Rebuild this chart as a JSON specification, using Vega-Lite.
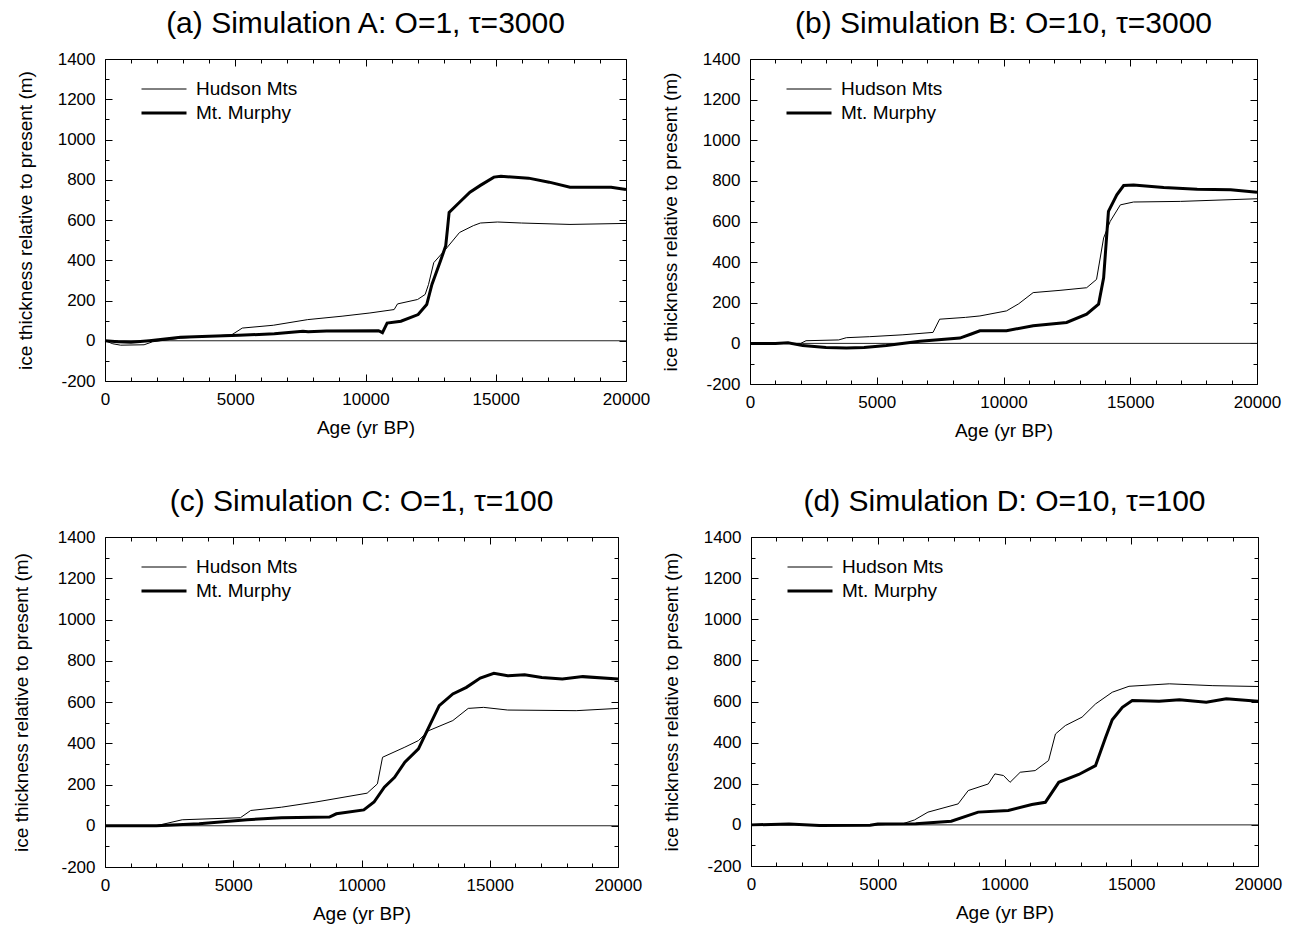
{
  "$schema": "https://vega.github.io/schema/vega-lite/v6.json",
  "padding": {"left": 11, "top": 8, "right": 5, "bottom": 5},
  "background": "white",
  "config": {
    "font": "Liberation Sans",
    "view": {"stroke": "black", "strokeWidth": 1},
    "axis": {"grid": false, "domain": false, "tickColor": "black", "tickWidth": 1, "labelColor": "black", "titleColor": "black", "labelFontSize": 17, "titleFontSize": 19, "titleFontWeight": "normal", "labelOverlap": false, "labelFlush": false},
    "title": {"fontSize": 30, "fontWeight": "normal", "color": "black", "anchor": "middle", "offset": 11},
    "legend": {"orient": "none", "legendX": 35, "legendY": 20, "title": null, "symbolType": "stroke", "symbolSize": 2025, "symbolStrokeColor": "black", "labelFontSize": 19, "labelColor": "black", "labelOffset": 8, "rowPadding": 4, "clipHeight": 20}
  },
  "datasets": {
    "curves": [
      {"p":"A","s":"Hudson Mts","age":0,"h":0},{"p":"A","s":"Hudson Mts","age":300,"h":-15},{"p":"A","s":"Hudson Mts","age":600,"h":-22},{"p":"A","s":"Hudson Mts","age":1500,"h":-20},{"p":"A","s":"Hudson Mts","age":1830,"h":-5},{"p":"A","s":"Hudson Mts","age":2900,"h":13},{"p":"A","s":"Hudson Mts","age":4000,"h":22},{"p":"A","s":"Hudson Mts","age":4870,"h":30},{"p":"A","s":"Hudson Mts","age":5270,"h":63},{"p":"A","s":"Hudson Mts","age":6460,"h":77},{"p":"A","s":"Hudson Mts","age":7780,"h":105},{"p":"A","s":"Hudson Mts","age":9100,"h":122},{"p":"A","s":"Hudson Mts","age":10170,"h":138},{"p":"A","s":"Hudson Mts","age":11100,"h":155},{"p":"A","s":"Hudson Mts","age":11230,"h":183},{"p":"A","s":"Hudson Mts","age":12000,"h":205},{"p":"A","s":"Hudson Mts","age":12290,"h":230},{"p":"A","s":"Hudson Mts","age":12420,"h":280},{"p":"A","s":"Hudson Mts","age":12620,"h":388},{"p":"A","s":"Hudson Mts","age":13080,"h":455},{"p":"A","s":"Hudson Mts","age":13610,"h":538},{"p":"A","s":"Hudson Mts","age":14140,"h":572},{"p":"A","s":"Hudson Mts","age":14410,"h":585},{"p":"A","s":"Hudson Mts","age":15070,"h":590},{"p":"A","s":"Hudson Mts","age":15990,"h":585},{"p":"A","s":"Hudson Mts","age":17850,"h":578},{"p":"A","s":"Hudson Mts","age":20000,"h":583},
      {"p":"A","s":"Mt. Murphy","age":0,"h":0},{"p":"A","s":"Mt. Murphy","age":500,"h":-5},{"p":"A","s":"Mt. Murphy","age":1000,"h":-8},{"p":"A","s":"Mt. Murphy","age":1700,"h":0},{"p":"A","s":"Mt. Murphy","age":2900,"h":17},{"p":"A","s":"Mt. Murphy","age":4000,"h":22},{"p":"A","s":"Mt. Murphy","age":5140,"h":27},{"p":"A","s":"Mt. Murphy","age":6500,"h":35},{"p":"A","s":"Mt. Murphy","age":7600,"h":47},{"p":"A","s":"Mt. Murphy","age":7800,"h":45},{"p":"A","s":"Mt. Murphy","age":8500,"h":48},{"p":"A","s":"Mt. Murphy","age":10500,"h":50},{"p":"A","s":"Mt. Murphy","age":10650,"h":40},{"p":"A","s":"Mt. Murphy","age":10830,"h":88},{"p":"A","s":"Mt. Murphy","age":11360,"h":97},{"p":"A","s":"Mt. Murphy","age":12020,"h":130},{"p":"A","s":"Mt. Murphy","age":12350,"h":180},{"p":"A","s":"Mt. Murphy","age":12550,"h":280},{"p":"A","s":"Mt. Murphy","age":12880,"h":397},{"p":"A","s":"Mt. Murphy","age":13080,"h":472},{"p":"A","s":"Mt. Murphy","age":13150,"h":560},{"p":"A","s":"Mt. Murphy","age":13210,"h":638},{"p":"A","s":"Mt. Murphy","age":13610,"h":688},{"p":"A","s":"Mt. Murphy","age":14010,"h":738},{"p":"A","s":"Mt. Murphy","age":14410,"h":772},{"p":"A","s":"Mt. Murphy","age":14930,"h":813},{"p":"A","s":"Mt. Murphy","age":15200,"h":817},{"p":"A","s":"Mt. Murphy","age":16260,"h":808},{"p":"A","s":"Mt. Murphy","age":17050,"h":788},{"p":"A","s":"Mt. Murphy","age":17850,"h":763},{"p":"A","s":"Mt. Murphy","age":19430,"h":763},{"p":"A","s":"Mt. Murphy","age":20000,"h":752},
      {"p":"B","s":"Hudson Mts","age":0,"h":0},{"p":"B","s":"Hudson Mts","age":2000,"h":0},{"p":"B","s":"Hudson Mts","age":2210,"h":13},{"p":"B","s":"Hudson Mts","age":3500,"h":17},{"p":"B","s":"Hudson Mts","age":3800,"h":28},{"p":"B","s":"Hudson Mts","age":4720,"h":33},{"p":"B","s":"Hudson Mts","age":6000,"h":42},{"p":"B","s":"Hudson Mts","age":7220,"h":54},{"p":"B","s":"Hudson Mts","age":7480,"h":119},{"p":"B","s":"Hudson Mts","age":8500,"h":128},{"p":"B","s":"Hudson Mts","age":9070,"h":135},{"p":"B","s":"Hudson Mts","age":10120,"h":160},{"p":"B","s":"Hudson Mts","age":10600,"h":195},{"p":"B","s":"Hudson Mts","age":11170,"h":250},{"p":"B","s":"Hudson Mts","age":12230,"h":261},{"p":"B","s":"Hudson Mts","age":13280,"h":274},{"p":"B","s":"Hudson Mts","age":13670,"h":315},{"p":"B","s":"Hudson Mts","age":13950,"h":519},{"p":"B","s":"Hudson Mts","age":14210,"h":601},{"p":"B","s":"Hudson Mts","age":14610,"h":682},{"p":"B","s":"Hudson Mts","age":15130,"h":696},{"p":"B","s":"Hudson Mts","age":16980,"h":699},{"p":"B","s":"Hudson Mts","age":20000,"h":712},
      {"p":"B","s":"Mt. Murphy","age":0,"h":0},{"p":"B","s":"Mt. Murphy","age":1000,"h":0},{"p":"B","s":"Mt. Murphy","age":1500,"h":3},{"p":"B","s":"Mt. Murphy","age":2080,"h":-11},{"p":"B","s":"Mt. Murphy","age":3000,"h":-20},{"p":"B","s":"Mt. Murphy","age":3800,"h":-23},{"p":"B","s":"Mt. Murphy","age":4500,"h":-20},{"p":"B","s":"Mt. Murphy","age":5380,"h":-11},{"p":"B","s":"Mt. Murphy","age":6700,"h":10},{"p":"B","s":"Mt. Murphy","age":8280,"h":26},{"p":"B","s":"Mt. Murphy","age":8700,"h":45},{"p":"B","s":"Mt. Murphy","age":9070,"h":62},{"p":"B","s":"Mt. Murphy","age":10120,"h":62},{"p":"B","s":"Mt. Murphy","age":11170,"h":87},{"p":"B","s":"Mt. Murphy","age":12490,"h":103},{"p":"B","s":"Mt. Murphy","age":13280,"h":144},{"p":"B","s":"Mt. Murphy","age":13750,"h":193},{"p":"B","s":"Mt. Murphy","age":13950,"h":323},{"p":"B","s":"Mt. Murphy","age":14140,"h":650},{"p":"B","s":"Mt. Murphy","age":14470,"h":731},{"p":"B","s":"Mt. Murphy","age":14740,"h":777},{"p":"B","s":"Mt. Murphy","age":15130,"h":780},{"p":"B","s":"Mt. Murphy","age":16320,"h":767},{"p":"B","s":"Mt. Murphy","age":17640,"h":759},{"p":"B","s":"Mt. Murphy","age":18960,"h":756},{"p":"B","s":"Mt. Murphy","age":20000,"h":744},
      {"p":"C","s":"Hudson Mts","age":0,"h":0},{"p":"C","s":"Hudson Mts","age":2000,"h":0},{"p":"C","s":"Hudson Mts","age":3010,"h":29},{"p":"C","s":"Hudson Mts","age":5280,"h":39},{"p":"C","s":"Hudson Mts","age":5680,"h":74},{"p":"C","s":"Hudson Mts","age":6880,"h":90},{"p":"C","s":"Hudson Mts","age":8220,"h":115},{"p":"C","s":"Hudson Mts","age":10220,"h":158},{"p":"C","s":"Hudson Mts","age":10620,"h":203},{"p":"C","s":"Hudson Mts","age":10820,"h":332},{"p":"C","s":"Hudson Mts","age":11690,"h":381},{"p":"C","s":"Hudson Mts","age":12220,"h":413},{"p":"C","s":"Hudson Mts","age":12620,"h":461},{"p":"C","s":"Hudson Mts","age":13560,"h":510},{"p":"C","s":"Hudson Mts","age":14160,"h":569},{"p":"C","s":"Hudson Mts","age":14760,"h":574},{"p":"C","s":"Hudson Mts","age":15700,"h":561},{"p":"C","s":"Hudson Mts","age":18370,"h":558},{"p":"C","s":"Hudson Mts","age":20000,"h":569},
      {"p":"C","s":"Mt. Murphy","age":0,"h":0},{"p":"C","s":"Mt. Murphy","age":2000,"h":0},{"p":"C","s":"Mt. Murphy","age":3670,"h":10},{"p":"C","s":"Mt. Murphy","age":5540,"h":29},{"p":"C","s":"Mt. Murphy","age":6880,"h":39},{"p":"C","s":"Mt. Murphy","age":8750,"h":42},{"p":"C","s":"Mt. Murphy","age":9020,"h":58},{"p":"C","s":"Mt. Murphy","age":10090,"h":77},{"p":"C","s":"Mt. Murphy","age":10490,"h":115},{"p":"C","s":"Mt. Murphy","age":10890,"h":187},{"p":"C","s":"Mt. Murphy","age":11290,"h":235},{"p":"C","s":"Mt. Murphy","age":11690,"h":308},{"p":"C","s":"Mt. Murphy","age":12220,"h":373},{"p":"C","s":"Mt. Murphy","age":12620,"h":477},{"p":"C","s":"Mt. Murphy","age":13030,"h":582},{"p":"C","s":"Mt. Murphy","age":13560,"h":639},{"p":"C","s":"Mt. Murphy","age":14090,"h":671},{"p":"C","s":"Mt. Murphy","age":14630,"h":716},{"p":"C","s":"Mt. Murphy","age":15160,"h":739},{"p":"C","s":"Mt. Murphy","age":15700,"h":727},{"p":"C","s":"Mt. Murphy","age":16360,"h":732},{"p":"C","s":"Mt. Murphy","age":17030,"h":719},{"p":"C","s":"Mt. Murphy","age":17830,"h":711},{"p":"C","s":"Mt. Murphy","age":18630,"h":723},{"p":"C","s":"Mt. Murphy","age":20000,"h":711},
      {"p":"D","s":"Hudson Mts","age":0,"h":0},{"p":"D","s":"Hudson Mts","age":1500,"h":4},{"p":"D","s":"Hudson Mts","age":2700,"h":-3},{"p":"D","s":"Hudson Mts","age":4700,"h":-2},{"p":"D","s":"Hudson Mts","age":5500,"h":3},{"p":"D","s":"Hudson Mts","age":6000,"h":6},{"p":"D","s":"Hudson Mts","age":6450,"h":24},{"p":"D","s":"Hudson Mts","age":6980,"h":62},{"p":"D","s":"Hudson Mts","age":8170,"h":102},{"p":"D","s":"Hudson Mts","age":8570,"h":167},{"p":"D","s":"Hudson Mts","age":9360,"h":199},{"p":"D","s":"Hudson Mts","age":9620,"h":248},{"p":"D","s":"Hudson Mts","age":9960,"h":240},{"p":"D","s":"Hudson Mts","age":10220,"h":207},{"p":"D","s":"Hudson Mts","age":10620,"h":256},{"p":"D","s":"Hudson Mts","age":11210,"h":264},{"p":"D","s":"Hudson Mts","age":11740,"h":313},{"p":"D","s":"Hudson Mts","age":12010,"h":442},{"p":"D","s":"Hudson Mts","age":12400,"h":483},{"p":"D","s":"Hudson Mts","age":13060,"h":524},{"p":"D","s":"Hudson Mts","age":13590,"h":588},{"p":"D","s":"Hudson Mts","age":14250,"h":645},{"p":"D","s":"Hudson Mts","age":14910,"h":674},{"p":"D","s":"Hudson Mts","age":16500,"h":686},{"p":"D","s":"Hudson Mts","age":18220,"h":677},{"p":"D","s":"Hudson Mts","age":20000,"h":673},
      {"p":"D","s":"Mt. Murphy","age":0,"h":0},{"p":"D","s":"Mt. Murphy","age":1500,"h":4},{"p":"D","s":"Mt. Murphy","age":2700,"h":-3},{"p":"D","s":"Mt. Murphy","age":4700,"h":-2},{"p":"D","s":"Mt. Murphy","age":5000,"h":4},{"p":"D","s":"Mt. Murphy","age":6500,"h":5},{"p":"D","s":"Mt. Murphy","age":7900,"h":18},{"p":"D","s":"Mt. Murphy","age":8960,"h":62},{"p":"D","s":"Mt. Murphy","age":10150,"h":70},{"p":"D","s":"Mt. Murphy","age":11080,"h":99},{"p":"D","s":"Mt. Murphy","age":11610,"h":110},{"p":"D","s":"Mt. Murphy","age":12140,"h":207},{"p":"D","s":"Mt. Murphy","age":12930,"h":245},{"p":"D","s":"Mt. Murphy","age":13590,"h":288},{"p":"D","s":"Mt. Murphy","age":13990,"h":426},{"p":"D","s":"Mt. Murphy","age":14250,"h":511},{"p":"D","s":"Mt. Murphy","age":14650,"h":572},{"p":"D","s":"Mt. Murphy","age":15040,"h":605},{"p":"D","s":"Mt. Murphy","age":16100,"h":601},{"p":"D","s":"Mt. Murphy","age":16900,"h":608},{"p":"D","s":"Mt. Murphy","age":17960,"h":596},{"p":"D","s":"Mt. Murphy","age":18750,"h":613},{"p":"D","s":"Mt. Murphy","age":20000,"h":601}
    ]
  },
  "resolve": {"scale": {"strokeWidth": "independent"}, "legend": {"strokeWidth": "independent"}},
  "spacing": 45,
  "vconcat": [
    {
      "spacing": 9,
      "resolve": {"scale": {"strokeWidth": "independent"}, "legend": {"strokeWidth": "independent"}},
      "hconcat": [
        {
          "width": 521, "height": 322,
          "title": "(a) Simulation A: O=1, τ=3000",
          "resolve": {"axis": {"x": "independent", "y": "independent"}},
          "layer": [
            {"data": {"values": [{"z": 0}]}, "mark": {"type": "rule", "color": "#222", "strokeWidth": 1}, "encoding": {"y": {"field": "z", "type": "quantitative", "axis": null, "scale": {"domain": [-200, 1400], "nice": false}}}},
            {"data": {"name": "curves"}, "transform": [{"filter": "datum.p == 'A'"}],
             "mark": {"type": "line", "color": "black", "interpolate": "linear"},
             "encoding": {
               "x": {"field": "age", "type": "quantitative", "scale": {"domain": [0, 20000], "nice": false}, "axis": {"orient": "bottom", "values": [0,1000,2000,3000,4000,5000,6000,7000,8000,9000,10000,11000,12000,13000,14000,15000,16000,17000,18000,19000,20000], "tickSize": {"condition": {"test": "datum.value % 5000 === 0", "value": -7}, "value": -4}, "labelExpr": "datum.value % 5000 === 0 ? '' + datum.value : ''", "title": "Age (yr BP)", "labelPadding": 17, "titlePadding": 8}},
               "y": {"field": "h", "type": "quantitative", "scale": {"domain": [-200, 1400], "nice": false}, "axis": {"orient": "left", "values": [-200,-100,0,100,200,300,400,500,600,700,800,900,1000,1100,1200,1300,1400], "tickSize": {"condition": {"test": "datum.value % 200 === 0", "value": -7}, "value": -4}, "labelExpr": "datum.value % 200 === 0 ? '' + datum.value : ''", "title": "ice thickness relative to present (m)", "labelPadding": 17, "titlePadding": 22}},
               "strokeWidth": {"field": "s", "type": "ordinal", "scale": {"domain": ["Hudson Mts", "Mt. Murphy"], "range": [1, 3]}},
               "detail": {"field": "s"}
             }},
            {"data": {"name": "curves"}, "transform": [{"filter": "datum.p == 'A'"}],
             "mark": {"type": "line", "opacity": 0},
             "encoding": {
               "x": {"field": "age", "type": "quantitative", "axis": {"orient": "top", "values": [0,1000,2000,3000,4000,5000,6000,7000,8000,9000,10000,11000,12000,13000,14000,15000,16000,17000,18000,19000,20000], "tickSize": {"condition": {"test": "datum.value % 5000 === 0", "value": -7}, "value": -4}, "labels": false, "title": null}},
               "y": {"field": "h", "type": "quantitative", "axis": {"orient": "right", "values": [-200,-100,0,100,200,300,400,500,600,700,800,900,1000,1100,1200,1300,1400], "tickSize": {"condition": {"test": "datum.value % 200 === 0", "value": -7}, "value": -4}, "labels": false, "title": null}},
               "detail": {"field": "s"}
             }}
          ]
        },
        {
          "width": 507, "height": 325,
          "title": "(b) Simulation B: O=10, τ=3000",
          "resolve": {"axis": {"x": "independent", "y": "independent"}},
          "layer": [
            {"data": {"values": [{"z": 0}]}, "mark": {"type": "rule", "color": "#222", "strokeWidth": 1}, "encoding": {"y": {"field": "z", "type": "quantitative", "axis": null, "scale": {"domain": [-200, 1400], "nice": false}}}},
            {"data": {"name": "curves"}, "transform": [{"filter": "datum.p == 'B'"}],
             "mark": {"type": "line", "color": "black", "interpolate": "linear"},
             "encoding": {
               "x": {"field": "age", "type": "quantitative", "scale": {"domain": [0, 20000], "nice": false}, "axis": {"orient": "bottom", "values": [0,1000,2000,3000,4000,5000,6000,7000,8000,9000,10000,11000,12000,13000,14000,15000,16000,17000,18000,19000,20000], "tickSize": {"condition": {"test": "datum.value % 5000 === 0", "value": -7}, "value": -4}, "labelExpr": "datum.value % 5000 === 0 ? '' + datum.value : ''", "title": "Age (yr BP)", "labelPadding": 17, "titlePadding": 8}},
               "y": {"field": "h", "type": "quantitative", "scale": {"domain": [-200, 1400], "nice": false}, "axis": {"orient": "left", "values": [-200,-100,0,100,200,300,400,500,600,700,800,900,1000,1100,1200,1300,1400], "tickSize": {"condition": {"test": "datum.value % 200 === 0", "value": -7}, "value": -4}, "labelExpr": "datum.value % 200 === 0 ? '' + datum.value : ''", "title": "ice thickness relative to present (m)", "labelPadding": 17, "titlePadding": 22}},
               "strokeWidth": {"field": "s", "type": "ordinal", "scale": {"domain": ["Hudson Mts", "Mt. Murphy"], "range": [1, 3]}},
               "detail": {"field": "s"}
             }},
            {"data": {"name": "curves"}, "transform": [{"filter": "datum.p == 'B'"}],
             "mark": {"type": "line", "opacity": 0},
             "encoding": {
               "x": {"field": "age", "type": "quantitative", "axis": {"orient": "top", "values": [0,1000,2000,3000,4000,5000,6000,7000,8000,9000,10000,11000,12000,13000,14000,15000,16000,17000,18000,19000,20000], "tickSize": {"condition": {"test": "datum.value % 5000 === 0", "value": -7}, "value": -4}, "labels": false, "title": null}},
               "y": {"field": "h", "type": "quantitative", "axis": {"orient": "right", "values": [-200,-100,0,100,200,300,400,500,600,700,800,900,1000,1100,1200,1300,1400], "tickSize": {"condition": {"test": "datum.value % 200 === 0", "value": -7}, "value": -4}, "labels": false, "title": null}},
               "detail": {"field": "s"}
             }}
          ]
        }
      ]
    },
    {
      "spacing": 18,
      "resolve": {"scale": {"strokeWidth": "independent"}, "legend": {"strokeWidth": "independent"}},
      "hconcat": [
        {
          "width": 513, "height": 330,
          "title": "(c) Simulation C: O=1, τ=100",
          "resolve": {"axis": {"x": "independent", "y": "independent"}},
          "layer": [
            {"data": {"values": [{"z": 0}]}, "mark": {"type": "rule", "color": "#222", "strokeWidth": 1}, "encoding": {"y": {"field": "z", "type": "quantitative", "axis": null, "scale": {"domain": [-200, 1400], "nice": false}}}},
            {"data": {"name": "curves"}, "transform": [{"filter": "datum.p == 'C'"}],
             "mark": {"type": "line", "color": "black", "interpolate": "linear"},
             "encoding": {
               "x": {"field": "age", "type": "quantitative", "scale": {"domain": [0, 20000], "nice": false}, "axis": {"orient": "bottom", "values": [0,1000,2000,3000,4000,5000,6000,7000,8000,9000,10000,11000,12000,13000,14000,15000,16000,17000,18000,19000,20000], "tickSize": {"condition": {"test": "datum.value % 5000 === 0", "value": -7}, "value": -4}, "labelExpr": "datum.value % 5000 === 0 ? '' + datum.value : ''", "title": "Age (yr BP)", "labelPadding": 17, "titlePadding": 8}},
               "y": {"field": "h", "type": "quantitative", "scale": {"domain": [-200, 1400], "nice": false}, "axis": {"orient": "left", "values": [-200,-100,0,100,200,300,400,500,600,700,800,900,1000,1100,1200,1300,1400], "tickSize": {"condition": {"test": "datum.value % 200 === 0", "value": -7}, "value": -4}, "labelExpr": "datum.value % 200 === 0 ? '' + datum.value : ''", "title": "ice thickness relative to present (m)", "labelPadding": 17, "titlePadding": 26}},
               "strokeWidth": {"field": "s", "type": "ordinal", "scale": {"domain": ["Hudson Mts", "Mt. Murphy"], "range": [1, 3]}},
               "detail": {"field": "s"}
             }},
            {"data": {"name": "curves"}, "transform": [{"filter": "datum.p == 'C'"}],
             "mark": {"type": "line", "opacity": 0},
             "encoding": {
               "x": {"field": "age", "type": "quantitative", "axis": {"orient": "top", "values": [0,1000,2000,3000,4000,5000,6000,7000,8000,9000,10000,11000,12000,13000,14000,15000,16000,17000,18000,19000,20000], "tickSize": {"condition": {"test": "datum.value % 5000 === 0", "value": -7}, "value": -4}, "labels": false, "title": null}},
               "y": {"field": "h", "type": "quantitative", "axis": {"orient": "right", "values": [-200,-100,0,100,200,300,400,500,600,700,800,900,1000,1100,1200,1300,1400], "tickSize": {"condition": {"test": "datum.value % 200 === 0", "value": -7}, "value": -4}, "labels": false, "title": null}},
               "detail": {"field": "s"}
             }}
          ]
        },
        {
          "width": 507, "height": 329,
          "title": "(d) Simulation D: O=10, τ=100",
          "resolve": {"axis": {"x": "independent", "y": "independent"}},
          "layer": [
            {"data": {"values": [{"z": 0}]}, "mark": {"type": "rule", "color": "#222", "strokeWidth": 1}, "encoding": {"y": {"field": "z", "type": "quantitative", "axis": null, "scale": {"domain": [-200, 1400], "nice": false}}}},
            {"data": {"name": "curves"}, "transform": [{"filter": "datum.p == 'D'"}],
             "mark": {"type": "line", "color": "black", "interpolate": "linear"},
             "encoding": {
               "x": {"field": "age", "type": "quantitative", "scale": {"domain": [0, 20000], "nice": false}, "axis": {"orient": "bottom", "values": [0,1000,2000,3000,4000,5000,6000,7000,8000,9000,10000,11000,12000,13000,14000,15000,16000,17000,18000,19000,20000], "tickSize": {"condition": {"test": "datum.value % 5000 === 0", "value": -7}, "value": -4}, "labelExpr": "datum.value % 5000 === 0 ? '' + datum.value : ''", "title": "Age (yr BP)", "labelPadding": 17, "titlePadding": 8}},
               "y": {"field": "h", "type": "quantitative", "scale": {"domain": [-200, 1400], "nice": false}, "axis": {"orient": "left", "values": [-200,-100,0,100,200,300,400,500,600,700,800,900,1000,1100,1200,1300,1400], "tickSize": {"condition": {"test": "datum.value % 200 === 0", "value": -7}, "value": -4}, "labelExpr": "datum.value % 200 === 0 ? '' + datum.value : ''", "title": "ice thickness relative to present (m)", "labelPadding": 17, "titlePadding": 22}},
               "strokeWidth": {"field": "s", "type": "ordinal", "scale": {"domain": ["Hudson Mts", "Mt. Murphy"], "range": [1, 3]}},
               "detail": {"field": "s"}
             }},
            {"data": {"name": "curves"}, "transform": [{"filter": "datum.p == 'D'"}],
             "mark": {"type": "line", "opacity": 0},
             "encoding": {
               "x": {"field": "age", "type": "quantitative", "axis": {"orient": "top", "values": [0,1000,2000,3000,4000,5000,6000,7000,8000,9000,10000,11000,12000,13000,14000,15000,16000,17000,18000,19000,20000], "tickSize": {"condition": {"test": "datum.value % 5000 === 0", "value": -7}, "value": -4}, "labels": false, "title": null}},
               "y": {"field": "h", "type": "quantitative", "axis": {"orient": "right", "values": [-200,-100,0,100,200,300,400,500,600,700,800,900,1000,1100,1200,1300,1400], "tickSize": {"condition": {"test": "datum.value % 200 === 0", "value": -7}, "value": -4}, "labels": false, "title": null}},
               "detail": {"field": "s"}
             }}
          ]
        }
      ]
    }
  ]
}
